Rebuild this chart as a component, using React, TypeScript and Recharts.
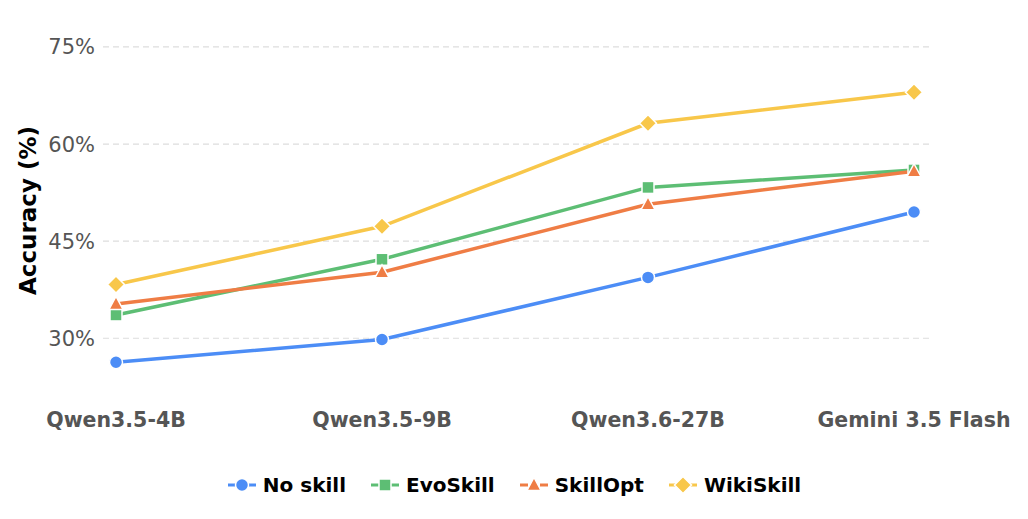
import React from 'react'
import { LineChart, Line, XAxis, YAxis, CartesianGrid } from 'recharts'

const models = ['Qwen3.5-4B', 'Qwen3.5-9B', 'Qwen3.6-27B', 'Gemini 3.5 Flash']
const noSkill = [26.3, 29.8, 39.4, 49.5]
const evoSkill = [33.6, 42.2, 53.3, 56.0]
const skillOpt = [35.3, 40.2, 50.7, 55.8]
const wikiSkill = [38.3, 47.3, 63.2, 68.0]
const yTicks = [30, 45, 60, 75]

const series = [
	{ key: 'noSkill', name: 'No skill', color: '#4C8DF6', shape: 'circle' },
	{ key: 'evoSkill', name: 'EvoSkill', color: '#5DBE74', shape: 'square' },
	{ key: 'skillOpt', name: 'SkillOpt', color: '#EF7D45', shape: 'triangle' },
	{ key: 'wikiSkill', name: 'WikiSkill', color: '#F8C74A', shape: 'diamond' },
]

const data = models.map((m, i) => ({
	model: m,
	noSkill: noSkill[i],
	evoSkill: evoSkill[i],
	skillOpt: skillOpt[i],
	wikiSkill: wikiSkill[i],
}))

const FONT = '"DejaVu Sans", sans-serif'

function Marker({ cx, cy, shape, color }: any) {
	if (cx == null || cy == null) return null
	const common = { fill: color, stroke: '#fff', strokeWidth: 1.5 }
	if (shape === 'circle') return <circle cx={cx} cy={cy} r={6.5} {...common} />
	if (shape === 'square') return <rect x={cx - 6} y={cy - 6} width={12} height={12} {...common} />
	if (shape === 'triangle')
		return <polygon points={`${cx},${cy - 7.5} ${cx + 7},${cy + 5.5} ${cx - 7},${cy + 5.5}`} {...common} />
	return <polygon points={`${cx},${cy - 8.5} ${cx + 8.5},${cy} ${cx},${cy + 8.5} ${cx - 8.5},${cy}`} {...common} />
}

function LegendRow() {
	return (
		<div
			style={{
				position: 'absolute',
				left: 0,
				top: 473,
				width: 1028,
				display: 'flex',
				justifyContent: 'center',
				gap: 24,
				fontFamily: FONT,
				fontWeight: 'bold',
				fontSize: 20,
				color: '#000',
			}}
		>
			{series.map((s) => (
				<div key={s.key} style={{ display: 'flex', alignItems: 'center', gap: 6 }}>
					<svg width={30} height={20}>
						<line x1={1} y1={10} x2={9} y2={10} stroke={s.color} strokeWidth={3} />
						<line x1={21} y1={10} x2={29} y2={10} stroke={s.color} strokeWidth={3} />
						<Marker cx={15} cy={10} shape={s.shape} color={s.color} />
					</svg>
					<span>{s.name}</span>
				</div>
			))}
		</div>
	)
}

export default function App() {
	return (
		<div style={{ position: 'absolute', left: 0, top: 0, width: 1028, height: 519, background: '#fff' }}>
			<LineChart
				width={1028}
				height={519}
				data={data}
				margin={{ top: 34, right: 98, left: 0, bottom: 0 }}
			>
				<CartesianGrid
					vertical={false}
					horizontalValues={yTicks}
					stroke='#DDDDDD'
					strokeDasharray='6 4'
					strokeWidth={1.2}
				/>
				<XAxis
					dataKey='model'
					axisLine={false}
					tickLine={false}
					tickSize={0}
					tickMargin={9}
					height={116}
					interval={0}
					padding={{ left: 13, right: 16 }}
					tick={{ fill: '#555', fontSize: 20.5, fontWeight: 'bold', fontFamily: FONT }}
				/>
				<YAxis
					type='number'
					domain={[20, 77]}
					ticks={yTicks}
					axisLine={false}
					tickLine={false}
					tickSize={0}
					tickMargin={8}
					width={103}
					tickFormatter={(v) => `${v}%`}
					tick={{ fill: '#555', fontSize: 21, fontFamily: FONT }}
					label={{
						value: 'Accuracy (%)',
						angle: -90,
						position: 'insideLeft',
						dx: 23,
						dy: -8,
						style: { fill: '#000', fontSize: 23, fontWeight: 'bold', fontFamily: FONT, textAnchor: 'middle' },
					}}
				/>
				{series.map((s) => (
					<Line
						key={s.key}
						dataKey={s.key}
						name={s.name}
						stroke={s.color}
						strokeWidth={3.5}
						isAnimationActive={false}
						dot={(p: any) => <Marker key={`${s.key}-${p.index}`} cx={p.cx} cy={p.cy} shape={s.shape} color={s.color} />}
						activeDot={false}
					/>
				))}
			</LineChart>
			<LegendRow />
		</div>
	)
}
